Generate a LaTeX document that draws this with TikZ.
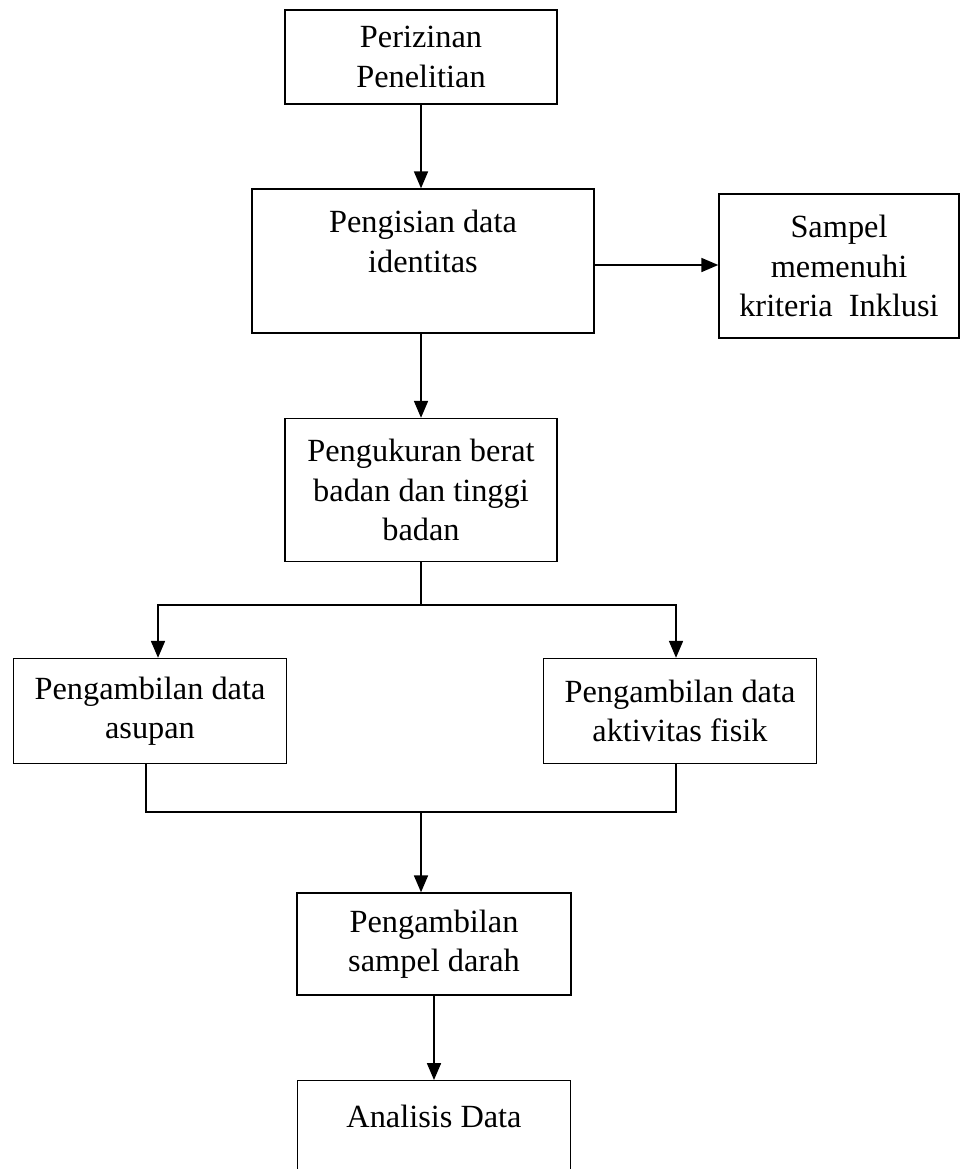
\documentclass[tikz,border=0pt]{standalone}
\usepackage{fontspec}
\setmainfont{Liberation Serif}
\usetikzlibrary{arrows.meta}
\tikzset{
  kotak/.style={draw, line width=1pt, align=center, inner sep=2pt,
    font=\fontsize{23}{28}\selectfont},
  panah/.style={-{Triangle[length=12pt,width=10pt]}, line width=1pt},
  garis/.style={line width=1pt}
}
\begin{document}
\begin{tikzpicture}[x=0.025cm,y=-0.025cm]
		\useasboundingbox (0,0) rectangle (960,1169);
		% Kotak-kotak
		\node[kotak, minimum width=6.8cm, minimum height=2.35cm] (izin) at (421,57) {Perizinan\\Penelitian};
		\node[kotak, minimum width=8.55cm, minimum height=3.6cm] (identitas) at (423,261) {Pengisian data\\identitas\\ };
		\node[kotak, minimum width=6cm, minimum height=3.6cm] (sampel) at (839,266) {Sampel\\memenuhi\\kriteria~ Inklusi};
		\node[kotak, minimum width=6.8cm, minimum height=3.575cm] (ukur) at (421,490) {Pengukuran berat\\badan dan tinggi\\badan};
		\node[kotak, minimum width=6.825cm, minimum height=2.625cm] (asupan) at (150,711) {Pengambilan data\\asupan};
		\node[kotak, minimum width=6.825cm, minimum height=2.625cm] (fisik) at (680,711) {Pengambilan data\\aktivitas fisik};
		\node[kotak, minimum width=6.85cm, minimum height=2.55cm] (darah) at (434,944) {Pengambilan\\sampel darah};
		\node[kotak, minimum width=6.825cm, minimum height=3.75cm, anchor=north] (analisis) at (434,1080) {Analisis Data\\ \\ };
		% Titik cabang
		\coordinate (cabang) at (421,605);
		\coordinate (gabung) at (421,812);
		% Panah utama
		\draw[panah] (izin.south) -- (izin.south |- identitas.north);
		\draw[panah] (identitas.east |- 0,265) -- (sampel.west |- 0,265);
		\draw[panah] (ukur.north |- identitas.south) -- (ukur.north);
		% Percabangan ke dua kotak
		\draw[garis] (ukur.south) -- (cabang);
		\draw[panah] (cabang) -| ([xshift=0.2cm]asupan.north);
		\draw[panah] (cabang) -| ([xshift=-0.1cm]fisik.north);
		% Penggabungan
		\draw[garis] ([xshift=-0.1cm]asupan.south) |- (gabung) -| ([xshift=-0.1cm]fisik.south);
		\draw[panah] (gabung) -- (gabung |- darah.north);
		\draw[panah] (darah.south) -- (analisis.north);
	\end{tikzpicture}
\end{document}
